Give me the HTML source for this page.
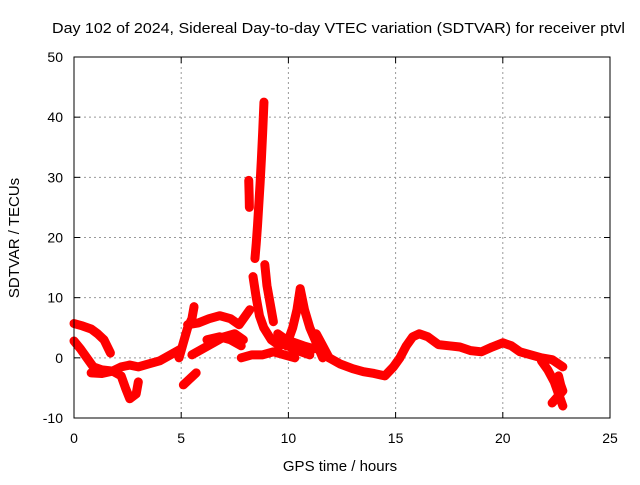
<!DOCTYPE html>
<html><head><meta charset="utf-8"><style>
body{margin:0;background:#fff;}
svg text{font-family:"Liberation Sans",sans-serif;font-size:14px;fill:#000;}
</style></head><body>
<svg id="c" width="640" height="480" xmlns="http://www.w3.org/2000/svg">
<text x="52" y="33" textLength="573" lengthAdjust="spacingAndGlyphs" style="font-size:15px">Day 102 of 2024, Sidereal Day-to-day VTEC variation (SDTVAR) for receiver ptvl</text>
<text x="340" y="471" text-anchor="middle" style="font-size:15px">GPS time / hours</text>
<text transform="translate(19,238) rotate(-90)" text-anchor="middle" style="font-size:15px">SDTVAR / TECUs</text>
<g id="grid"></g><g id="ticks"></g><g id="marks"></g>
<rect x="74" y="57" width="536" height="361" fill="none" stroke="#000" stroke-width="1"/>
</svg>
<script>
const xTicks=[0,5,10,15,20,25];
const yTicks=[-10,0,10,20,30,40,50];
const trackA=[[0,5.7],[0.4,5.3],[0.8,4.8],[1.1,4],[1.4,3],[1.7,0.8]];
const trackB=[[0,2.8],[0.3,1.5],[0.6,0],[0.9,-1.5],[1.3,-2],[1.8,-2.2],[2.2,-3],[2.4,-5],[2.6,-6.8],[2.9,-6],[3.0,-4]];
const trackC=[[0.8,-2.5],[1.3,-2.6],[1.8,-2.2],[2.2,-1.5],[2.6,-1.2],[3.0,-1.5],[3.5,-1],[4,-0.5],[4.5,0.5],[5,1.5]];
const trackD=[[4.9,0],[5.1,2.5],[5.3,5],[5.5,6.5],[5.6,8.5]];
const trackE=[[5.3,5.5],[5.8,5.8],[6.3,6.5],[6.8,7],[7.3,6.5],[7.7,5.5],[8.0,7],[8.2,8]];
const trackF=[[5.1,-4.5],[5.4,-3.5],[5.7,-2.5]];
const trackG=[[5.5,0.5],[6,1.5],[6.5,2.5],[7,3.5],[7.5,4],[7.9,3]];
const trackH=[[7.8,0],[8.3,0.5],[8.8,0.5],[9.3,1],[9.8,0.5],[10.3,0]];
const trackI=[[8.15,29.5],[8.17,27],[8.18,25]];
const trackJ=[[8.44,16.5],[8.5,19],[8.56,22],[8.62,25.5],[8.68,29],[8.74,33],[8.8,37.5],[8.86,42.5]];
const trackK=[[8.9,15.5],[9.0,12],[9.15,9],[9.3,6]];
const trackL=[[8.35,13.5],[8.5,10],[8.65,7],[8.85,5],[9.2,3],[9.6,2]];
const trackM=[[9.9,2],[10.2,5],[10.4,8],[10.55,11.5],[10.75,8],[11.0,5],[11.3,2.5],[11.6,0]];
const trackN=[[9.4,3],[9.8,2.5],[10.2,1.5],[10.6,1],[11,0.5]];
const trackO=[[11.3,4],[11.6,2],[11.9,0]];
const trackP=[[11.9,0],[12.4,-1],[13,-1.8],[13.5,-2.3],[14,-2.6],[14.5,-3],[14.9,-1.5],[15.2,0],[15.5,2],[15.8,3.5],[16.1,4],[16.5,3.5],[17,2.2],[17.5,2],[18,1.8],[18.5,1.2],[19,1],[19.5,1.8],[20,2.5],[20.4,2],[20.8,1],[21.3,0.5],[21.8,0],[22.3,-0.3],[22.8,-1.5]];
const trackQ=[[21.8,-0.5],[22.1,-2],[22.4,-4],[22.6,-6],[22.8,-8]];
const trackR=[[22.6,-3],[22.7,-4.5],[22.8,-5.5],[22.3,-7.5]];
const trackS=[[9.5,4],[9.9,3],[10.3,2.5],[10.7,2],[11.2,1.5]];
const trackT=[[6.2,3],[6.8,3.5],[7.3,3],[7.8,2]];
const series=[trackA,trackB,trackC,trackD,trackE,trackF,trackG,trackH,trackI,trackJ,trackK,trackL,trackM,trackN,trackO,trackP,trackQ,trackR,trackS,trackT];
const X=t=>74+t*(536/25);
const Y=v=>418-(v+10)*(361/60);
const NS="http://www.w3.org/2000/svg";
const grid=document.getElementById('grid'),ticks=document.getElementById('ticks'),marks=document.getElementById('marks');
function mk(tag,a,p){const e=document.createElementNS(NS,tag);for(const k in a)e.setAttribute(k,a[k]);p.appendChild(e);return e;}
xTicks.forEach(t=>{
 if(t>0&&t<25){const g=mk('line',{x1:X(t),x2:X(t),y1:57,y2:418,stroke:'#999','stroke-dasharray':'2,3'},grid);
 
 }
 mk('line',{x1:X(t),x2:X(t),y1:418,y2:412,stroke:'#000'},ticks);
 mk('line',{x1:X(t),x2:X(t),y1:57,y2:63,stroke:'#000'},ticks);
 const l=mk('text',{x:X(t),y:443,'text-anchor':'middle'},ticks);l.textContent=t;
 
 
});
yTicks.forEach(v=>{
 if(v>-10&&v<50){const g=mk('line',{x1:74,x2:610,y1:Y(v),y2:Y(v),stroke:'#999','stroke-dasharray':'2,3'},grid);
 
 }
 mk('line',{x1:74,x2:80,y1:Y(v),y2:Y(v),stroke:'#000'},ticks);
 mk('line',{x1:610,x2:604,y1:Y(v),y2:Y(v),stroke:'#000'},ticks);
 const l=mk('text',{x:63,y:Y(v)+5,'text-anchor':'end'},ticks);l.textContent=v;
 
 
});
series.forEach((s,i)=>{
 const pl=mk('polyline',{points:s.map(p=>X(p[0])+','+Y(p[1])).join(' '),fill:'none',stroke:'#f00','stroke-width':9,'stroke-linejoin':'round','stroke-linecap':'round'},marks);
 
 
 s.forEach(p=>{
  const x=X(p[0]),y=Y(p[1]);
  const m=mk('path',{d:`M${x-4},${y}H${x+4}M${x},${y-4}V${y+4}`,stroke:'#f00','stroke-width':1.5},marks);
  
  
 });
});
</script>
</body></html>
